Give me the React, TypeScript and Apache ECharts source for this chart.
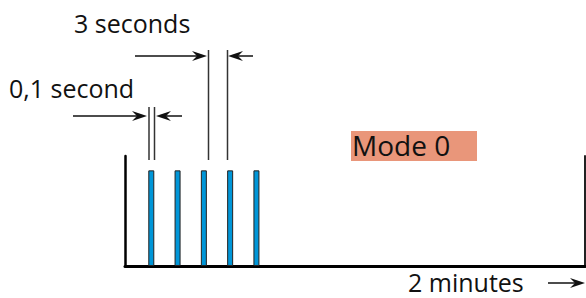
import React, { useEffect, useRef } from "react";
import * as echarts from "echarts";

// Pulse start times (schematic seconds) and their amplitude
const pulseTimes = [0, 3, 6, 9, 12];
const pulseHeights = [1, 1, 1, 1, 1];
const xMin = -3;
const xMax = 49.5;
const yMax = 1.15;

const labels = {
  short: "0,1 second",
  period: "3 seconds",
  mode: "Mode 0",
  total: "2 minutes",
};

const FONT = "'Open Sans', 'DejaVu Sans', sans-serif";

function arrow(x0: number, tip: number, y: number, color = "#111") {
  const dir = tip > x0 ? 1 : -1;
  return [
    {
      type: "line",
      shape: { x1: x0, y1: y, x2: tip - 10 * dir, y2: y },
      style: { stroke: color, lineWidth: 1.5 },
    },
    {
      type: "polygon",
      shape: {
        points: [
          [tip, y],
          [tip - 15 * dir, y - 5],
          [tip - 10 * dir, y],
          [tip - 15 * dir, y + 5],
        ],
      },
      style: { fill: color },
    },
  ];
}

function vline(x: number, y1: number, y2: number) {
  return {
    type: "line",
    shape: { x1: x, y1, x2: x, y2 },
    style: { stroke: "#333", lineWidth: 1.5 },
  };
}

function text(t: string, x: number, baseline: number, fs: number) {
  return {
    type: "text",
    x,
    y: baseline - 0.36 * fs,
    style: {
      text: t,
      font: `${fs}px ${FONT}`,
      fill: "#111",
      align: "left",
      verticalAlign: "middle",
    },
  };
}

export default function App() {
  const ref = useRef<HTMLDivElement>(null);
  useEffect(() => {
    if (!ref.current) return;
    const chart = echarts.init(ref.current, undefined, { renderer: "svg" });
    chart.setOption({
      animation: false,
      grid: { left: 125, right: 1, top: 156, bottom: 32 },
      xAxis: {
        type: "value",
        min: xMin,
        max: xMax,
        axisLine: { show: true, onZero: false, lineStyle: { color: "#000", width: 3 } },
        axisTick: { show: false },
        axisLabel: { show: false },
        splitLine: { show: false },
      },
      yAxis: [
        {
          type: "value",
          min: 0,
          max: yMax,
          position: "left",
          axisLine: { show: true, onZero: false, lineStyle: { color: "#000", width: 2.5 } },
          axisTick: { show: false },
          axisLabel: { show: false },
          splitLine: { show: false },
        },
        {
          type: "value",
          min: 0,
          max: yMax,
          position: "right",
          axisLine: { show: true, onZero: false, lineStyle: { color: "#222", width: 2 } },
          axisTick: { show: false },
          axisLabel: { show: false },
          splitLine: { show: false },
        },
      ],
      series: [
        {
          type: "bar",
          data: pulseTimes.map((t, i) => [t, pulseHeights[i]]),
          barWidth: 6,
          itemStyle: { color: "#0096d8", borderColor: "#222", borderWidth: 1 },
        },
      ],
      graphic: [
        text(labels.period, 74, 32, 25),
        text(labels.short, 9, 97, 25),
        ...arrow(135, 207, 56),
        ...arrow(253, 228, 56),
        ...arrow(73, 147, 116),
        ...arrow(182, 156, 116),
        vline(208.5, 50, 160),
        vline(227.5, 50, 160),
        vline(149, 107, 160),
        vline(154.5, 107, 160),
        {
          type: "rect",
          shape: { x: 351, y: 131, width: 126, height: 30 },
          style: { fill: "#e9967a" },
        },
        text(labels.mode, 352, 155, 28),
        text(labels.total, 408, 291, 25),
        ...arrow(548, 585, 283),
      ],
    });
    return () => chart.dispose();
  }, []);
  return (
    <div
      ref={ref}
      style={{ position: "fixed", left: 0, top: 0, width: 586, height: 298, background: "#fff" }}
    />
  );
}
